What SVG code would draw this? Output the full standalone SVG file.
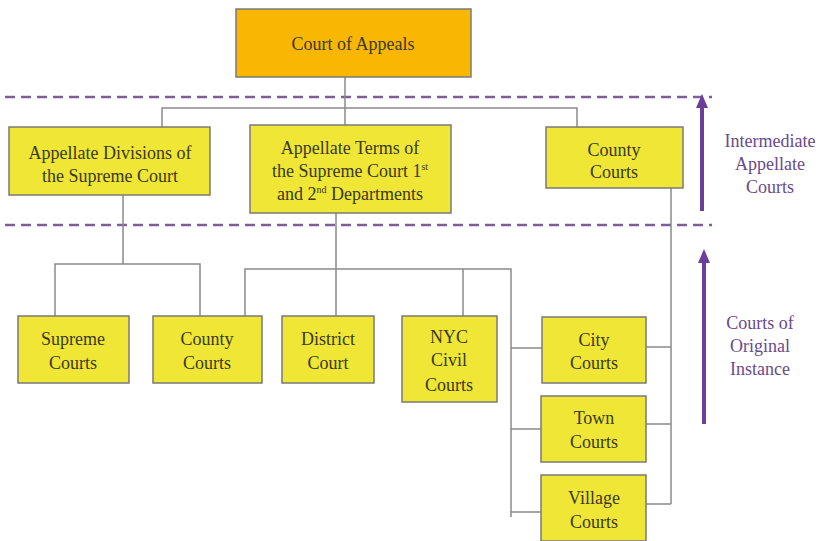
<svg xmlns="http://www.w3.org/2000/svg" width="824" height="541" viewBox="0 0 824 541">
<style>
.box{fill:#EFE636;stroke:#7a7a7a;stroke-width:1.5}
.top{fill:#F9B704;stroke:#7a7a7a;stroke-width:1.5}
.t{font-family:"Liberation Serif",serif;font-size:18px;fill:#3b3a1c;text-anchor:middle}
.p{font-family:"Liberation Serif",serif;font-size:18px;fill:#6a4a8c;text-anchor:middle}
.c{fill:none;stroke:#8a8a8a;stroke-width:1.5}
.d{fill:none;stroke:#7d5fa0;stroke-width:2.5;stroke-dasharray:10 6}
.a{fill:none;stroke:#6b3f99;stroke-width:4}
</style>
<defs>
<marker id="ah" viewBox="0 0 10 10" refX="0" refY="5" markerWidth="3.5" markerHeight="3" preserveAspectRatio="none" orient="auto" markerUnits="strokeWidth">
<path d="M0,0 L10,5 L0,10 Z" fill="#6b3f99"/>
</marker>
</defs>
<rect width="824" height="541" fill="#ffffff"/>
<g id="levels">
<line class="d" x1="5" y1="97" x2="712" y2="97"/>
<line class="d" x1="5" y1="225" x2="712" y2="225"/>
<line class="a" x1="702" y1="211" x2="702" y2="108" marker-end="url(#ah)"/>
<line class="a" x1="704" y1="424" x2="704" y2="263" marker-end="url(#ah)"/>
<text class="p" x="770" y="147">Intermediate</text>
<text class="p" x="770" y="170">Appellate</text>
<text class="p" x="770" y="193">Courts</text>
<text class="p" x="760" y="329">Courts of</text>
<text class="p" x="760" y="352">Original</text>
<text class="p" x="760" y="375">Instance</text>
</g>
<g id="connectors">
<path class="c" d="M345,77 V108 M162,127 V108 H577 V127 M345,108 V125"/>
<path class="c" d="M123,195 V264 M55,316 V264 H200 V316"/>
<path class="c" d="M336,213 V316 M245,316 V269 H511 V517 M463,269 V316"/>
<path class="c" d="M511,348 H542 M511,429 H541 M511,512 H541"/>
<path class="c" d="M671,188 V504 M646,347 H671 M646,424 H671 M646,504 H671"/>
</g>
<g id="court-of-appeals">
<rect class="top" x="236" y="9" width="235" height="68"/>
<text class="t" x="353" y="50">Court of Appeals</text>
</g>
<g id="appellate-divisions">
<rect class="box" x="9" y="127" width="201" height="68"/>
<text class="t" x="110" y="159">Appellate Divisions of</text>
<text class="t" x="110" y="182">the Supreme Court</text>
</g>
<g id="appellate-terms">
<rect class="box" x="250" y="125" width="201" height="88"/>
<text class="t" x="350" y="154">Appellate Terms of</text>
<text class="t" x="350" y="177">the Supreme Court 1<tspan font-size="10" dy="-7">st</tspan></text>
<text class="t" x="350" y="200">and 2<tspan font-size="10" dy="-7">nd</tspan><tspan dy="7"> Departments</tspan></text>
</g>
<g id="county-courts-top">
<rect class="box" x="546" y="127" width="137" height="61"/>
<text class="t" x="614" y="156">County</text>
<text class="t" x="614" y="178">Courts</text>
</g>
<g id="supreme-courts">
<rect class="box" x="18" y="316" width="111" height="67"/>
<text class="t" x="73" y="345">Supreme</text>
<text class="t" x="73" y="369">Courts</text>
</g>
<g id="county-courts">
<rect class="box" x="153" y="316" width="109" height="67"/>
<text class="t" x="207" y="345">County</text>
<text class="t" x="207" y="369">Courts</text>
</g>
<g id="district-court">
<rect class="box" x="282" y="316" width="92" height="67"/>
<text class="t" x="328" y="345">District</text>
<text class="t" x="328" y="369">Court</text>
</g>
<g id="nyc-civil-courts">
<rect class="box" x="402" y="316" width="95" height="86"/>
<text class="t" x="449" y="343">NYC</text>
<text class="t" x="449" y="366">Civil</text>
<text class="t" x="449" y="391">Courts</text>
</g>
<g id="city-courts">
<rect class="box" x="542" y="317" width="104" height="66"/>
<text class="t" x="594" y="346">City</text>
<text class="t" x="594" y="369">Courts</text>
</g>
<g id="town-courts">
<rect class="box" x="541" y="396" width="105" height="66"/>
<text class="t" x="594" y="424">Town</text>
<text class="t" x="594" y="448">Courts</text>
</g>
<g id="village-courts">
<rect class="box" x="541" y="475" width="105" height="66"/>
<text class="t" x="594" y="504">Village</text>
<text class="t" x="594" y="528">Courts</text>
</g>
</svg>
